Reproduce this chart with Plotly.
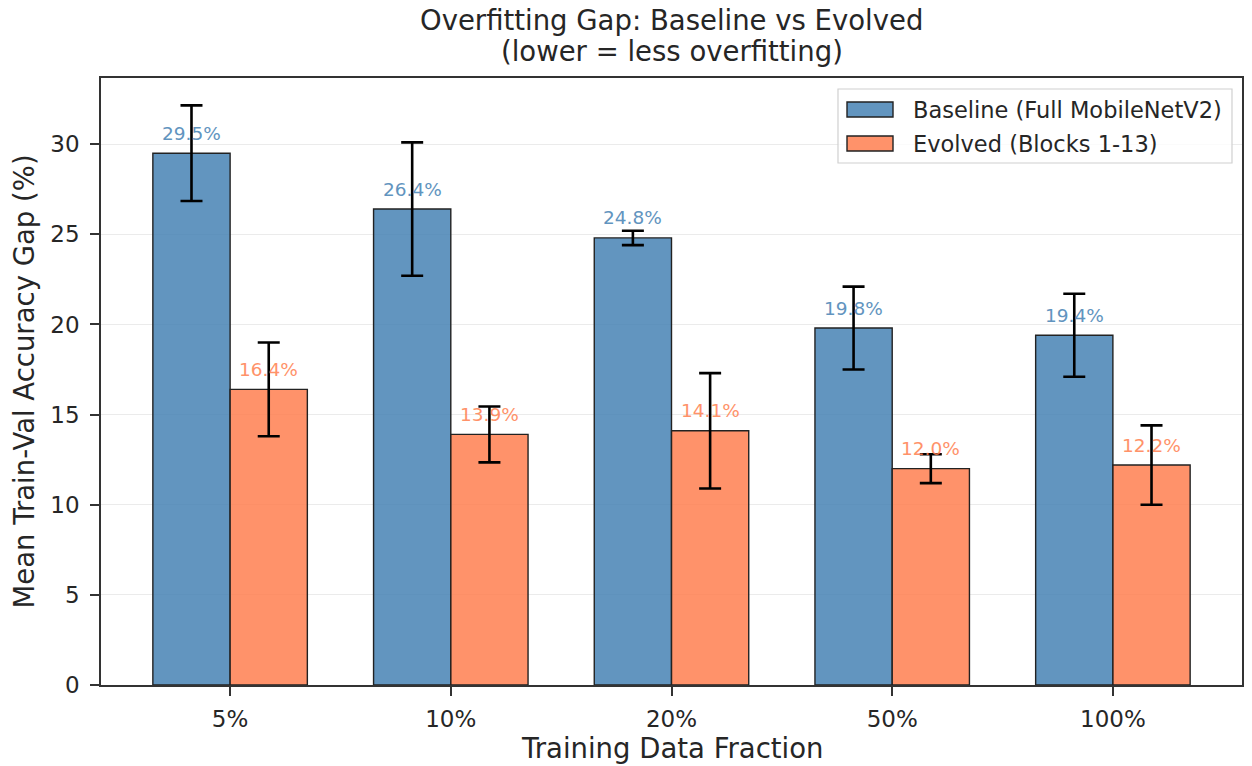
import numpy as np
import plotly.graph_objects as go

# Data
fractions = ["5%", "10%", "20%", "50%", "100%"]
baseline_gap = [29.5, 26.4, 24.8, 19.8, 19.4]
baseline_std = [2.65, 3.7, 0.4, 2.3, 2.3]
evolved_gap = [16.4, 13.9, 14.1, 12.0, 12.2]
evolved_std = [2.6, 1.55, 3.2, 0.8, 2.2]
series_names = ["Baseline (Full MobileNetV2)", "Evolved (Blocks 1-13)"]

x = np.arange(len(fractions))
bar_w = 0.35

W, H = 1252, 766
L, R, T, B = 101, 10, 78, 81
PW, PH = W - L - R, H - T - B

FONT = "DejaVu Sans"
TXT = "#262626"
BLUE = "rgba(70,130,180,0.85)"
ORANGE = "rgba(255,127,80,0.85)"
BLUE_TXT = "#4682b4"
ORANGE_TXT = "#ff7f50"
EDGE = "#222222"


def px_x(p):
    return (p - L) / PW


def px_y(p):
    return (H - B - p) / PH


fig = go.Figure()

fig.add_trace(go.Bar(
    x=x - bar_w / 2, y=baseline_gap, width=bar_w, name=series_names[0],
    marker=dict(color=BLUE, line=dict(color=EDGE, width=1.4)),
    error_y=dict(type="data", array=baseline_std, color="black", thickness=2.6, width=11),
    showlegend=False,
))
fig.add_trace(go.Bar(
    x=x + bar_w / 2, y=evolved_gap, width=bar_w, name=series_names[1],
    marker=dict(color=ORANGE, line=dict(color=EDGE, width=1.4)),
    error_y=dict(type="data", array=evolved_std, color="black", thickness=2.6, width=11),
    showlegend=False,
))

annotations = []
# Value labels above each bar
for xs, vals, col in ((x - bar_w / 2, baseline_gap, BLUE_TXT), (x + bar_w / 2, evolved_gap, ORANGE_TXT)):
    for xi, v in zip(xs, vals):
        annotations.append(dict(x=xi, y=v, xref="x", yref="y", text=f"{v:.1f}%",
                                showarrow=False, yanchor="middle", yshift=20,
                                font=dict(family=FONT, size=18.5, color=col), opacity=0.85))

# Title (two lines)
annotations.append(dict(x=0.5, y=px_y(20), xref="paper", yref="paper",
                        text="Overfitting Gap: Baseline vs Evolved", showarrow=False,
                        xanchor="center", yanchor="middle",
                        font=dict(family=FONT, size=27.5, color=TXT)))
annotations.append(dict(x=0.5, y=px_y(51), xref="paper", yref="paper",
                        text="(lower = less overfitting)", showarrow=False,
                        xanchor="center", yanchor="middle",
                        font=dict(family=FONT, size=27.5, color=TXT)))

# Axis titles
annotations.append(dict(x=0.5, y=px_y(748), xref="paper", yref="paper",
                        text="Training Data Fraction", showarrow=False,
                        xanchor="center", yanchor="middle",
                        font=dict(family=FONT, size=27.5, color=TXT)))
annotations.append(dict(x=px_x(23), y=0.5, xref="paper", yref="paper",
                        text="Mean Train-Val Accuracy Gap (%)", showarrow=False,
                        textangle=-90, xanchor="center", yanchor="middle",
                        font=dict(family=FONT, size=27.5, color=TXT)))

# Legend box with rectangular patches
shapes = [dict(type="rect", xref="paper", yref="paper",
               x0=px_x(838), x1=px_x(1232), y0=px_y(163), y1=px_y(89),
               fillcolor="rgba(255,255,255,0.8)", line=dict(color="#d0d0d0", width=1.2),
               layer="above")]
for row, (name, col) in enumerate(zip(series_names, (BLUE, ORANGE))):
    cy = 109.5 + row * 34
    shapes.append(dict(type="rect", xref="paper", yref="paper",
                       x0=px_x(847), x1=px_x(893), y0=px_y(cy + 7.5), y1=px_y(cy - 7.5),
                       fillcolor=col, line=dict(color=EDGE, width=1.4), layer="above"))
    annotations.append(dict(x=px_x(911), y=px_y(cy), xref="paper", yref="paper",
                            text=name, showarrow=False, xanchor="left", yanchor="middle",
                            font=dict(family=FONT, size=22.5, color=TXT)))

fig.update_layout(
    width=W, height=H,
    margin=dict(l=L, r=R, t=T, b=B, autoexpand=False),
    paper_bgcolor="white", plot_bgcolor="white",
    font=dict(family=FONT, size=23, color=TXT),
    barmode="overlay",
    showlegend=False,
    annotations=annotations,
    shapes=shapes,
    xaxis=dict(
        range=[-0.585, 4.585],
        tickmode="array", tickvals=list(x), ticktext=fractions,
        showline=True, linecolor="#333333", linewidth=1.5, mirror=True,
        ticks="outside", ticklen=9, tickwidth=1.5, tickcolor="#333333",
        ticklabelstandoff=4,
        showgrid=False, zeroline=False,
        tickfont=dict(family=FONT, size=23, color=TXT),
    ),
    yaxis=dict(
        range=[0, 33.67],
        tickmode="array", tickvals=[0, 5, 10, 15, 20, 25, 30],
        showline=True, linecolor="#333333", linewidth=1.5, mirror=True,
        ticks="outside", ticklen=9, tickwidth=1.5, tickcolor="#333333",
        ticklabelstandoff=6,
        showgrid=True, gridcolor="#ebebeb", gridwidth=1.4, zeroline=False,
        tickfont=dict(family=FONT, size=23, color=TXT),
    ),
)

fig.write_html("out.html")
